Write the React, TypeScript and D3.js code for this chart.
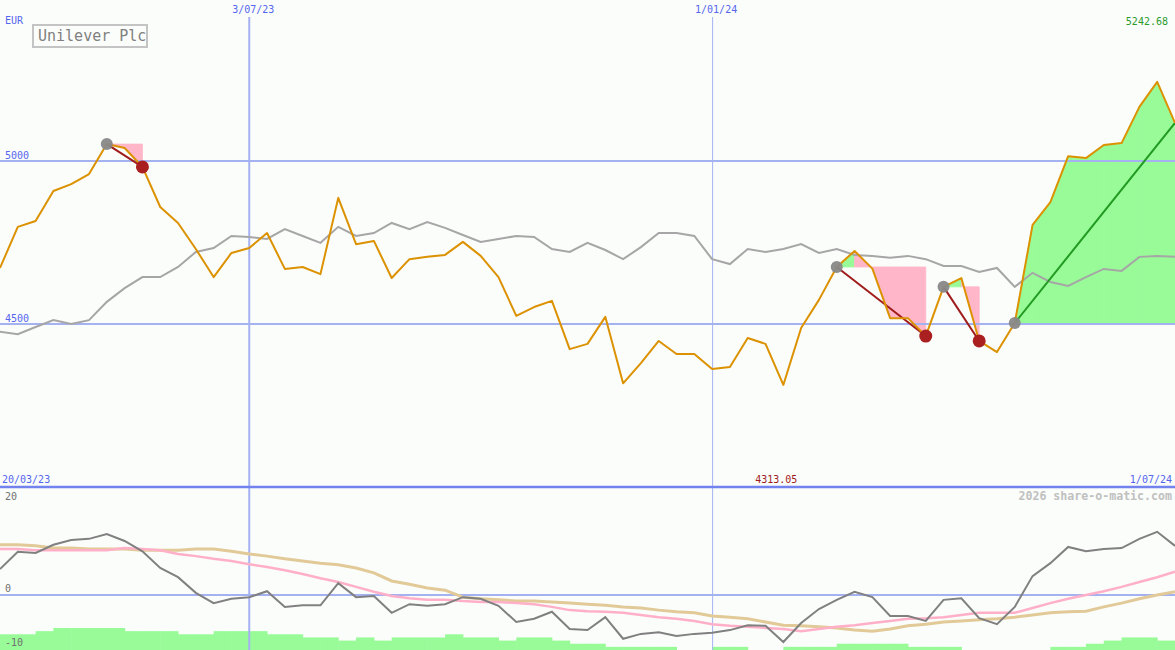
import React from "react";
import * as d3 from "d3";

const W = 1175;
const H = 650;

// weekly closes (EUR), first week 27/03/23, last week 1/07/24
const firstWeek = new Date(2023, 2, 27);
const weekCount = 67;

const price = [
  4672, 4798, 4816, 4908, 4929, 4960, 5052, 5040, 4982, 4859,
  4810, 4730, 4644, 4718, 4733, 4779, 4669, 4675, 4653, 4887,
  4745, 4755, 4641, 4699, 4706, 4712, 4752, 4709, 4644, 4525,
  4552, 4571, 4423, 4439, 4522, 4318, 4380, 4448, 4408, 4408,
  4362, 4368, 4457, 4439, 4313.05, 4488, 4574, 4675, 4724, 4670,
  4518, 4518, 4463, 4614, 4641, 4448, 4414, 4503, 4804, 4874,
  5015, 5009, 5049, 5055, 5166, 5242.68, 5117,
];

const compareIndex = [
  4476, 4469, 4491, 4512, 4500, 4512, 4568, 4610, 4644, 4644,
  4675, 4721, 4733, 4770, 4767, 4761, 4791, 4770, 4749, 4798,
  4770, 4779, 4810, 4791, 4813, 4795, 4773, 4752, 4761, 4770,
  4767, 4730, 4721, 4749, 4727, 4699, 4736, 4779, 4779, 4770,
  4699, 4684, 4730, 4721, 4730, 4745, 4718, 4730, 4712, 4709,
  4703, 4709, 4699, 4678, 4678, 4660, 4672, 4614, 4657, 4629,
  4617, 4644, 4669, 4663, 4706, 4709, 4706,
];

const momentum = [
  4.8, 8.0, 7.8, 9.3, 10.2, 10.4, 11.3, 10.0, 8.1, 5.0,
  3.3, 0.4, -1.5, -0.7, -0.4, 0.7, -2.2, -1.9, -1.9, 2.2,
  -0.4, -0.2, -3.3, -1.7, -2.0, -1.7, -0.4, -0.7, -2.0, -5.0,
  -4.4, -3.1, -6.3, -6.5, -4.1, -8.1, -7.2, -6.9, -7.6, -7.2,
  -7.0, -6.5, -5.6, -5.7, -8.7, -5.2, -2.6, -0.9, 0.6, -0.4,
  -3.9, -3.9, -4.8, -0.9, -0.6, -4.3, -5.4, -2.2, 3.5, 5.9,
  8.9, 8.1, 8.5, 8.7, 10.4, 11.7, 9.1,
];

const fastAverage = [
  8.5, 8.5, 8.3, 8.3, 8.3, 8.3, 8.3, 8.7, 8.5, 8.3,
  7.6, 7.2, 6.7, 6.3, 5.7, 5.2, 4.6, 3.9, 3.1, 2.4,
  1.5, 0.6, -0.2, -0.6, -0.9, -0.9, -1.1, -1.3, -1.3, -1.5,
  -1.7, -2.2, -2.8, -3.0, -3.1, -3.3, -3.7, -4.1, -4.4, -4.8,
  -5.4, -5.7, -5.9, -6.1, -6.3, -6.7, -6.3, -5.9, -5.6, -5.2,
  -4.8, -4.4, -4.3, -4.1, -3.7, -3.3, -3.3, -3.3, -2.4, -1.5,
  -0.7, 0, 0.7, 1.5, 2.4, 3.3, 4.3,
];

const slowAverage = [
  9.3, 9.3, 9.1, 8.7, 8.7, 8.5, 8.5, 8.5, 8.3, 8.3,
  8.3, 8.5, 8.5, 8.1, 7.6, 7.2, 6.7, 6.3, 5.9, 5.6,
  5.0, 4.1, 2.6, 2.0, 1.3, 0.9, -0.4, -0.7, -0.9, -1.1,
  -1.1, -1.3, -1.5, -1.7, -1.9, -2.2, -2.4, -2.8, -3.1, -3.3,
  -3.9, -4.1, -4.4, -5.0, -5.6, -5.7, -5.9, -6.1, -6.5, -6.7,
  -6.3, -5.7, -5.4, -5.0, -4.8, -4.6, -4.4, -4.1, -3.7, -3.3,
  -3.1, -3.0, -2.2, -1.5, -0.7, 0, 0.6,
];

// histogram level for each week-to-week interval
const barLevels = [
  5, 5, 6, 7, 7, 7, 7, 6, 6, 6,
  5, 5, 6, 6, 6, 5, 5, 4, 4, 3,
  4, 3, 4, 4, 4, 5, 4, 4, 3, 4,
  4, 3, 2, 2, 1, 1, 1, 1, 0, 0,
  1, 1, 0, 0, 1, 1, 1, 2, 2, 2,
  2, 1, 1, 1, 0, 0, 0, 0, 0, 1,
  1, 2, 3, 4, 4, 3,
];

const tradeEntries = [6, 47, 53, 57];
const tradeExits = [8, 52, 55, -1];

const priceTicks = [5000, 4500];
const oscTicks = [20, 0, -10];
const markerDates = [new Date(2023, 6, 3), new Date(2024, 0, 1)];
const markerLabels = ["3/07/23", "1/01/24"];
const startLabel = "20/03/23";
const endLabel = "1/07/24";
const title = "Unilever Plc";

const MONO = "'DejaVu Sans Mono', 'Liberation Mono', monospace";
const BLUE_TEXT = "#5566ee";
const GRID = "#a4b2f2";

export default function App() {
  const dates = d3.range(weekCount).map((i) => d3.timeWeek.offset(firstWeek, i));
  const x = d3.scaleTime().domain([dates[0], dates[dates.length - 1]]).range([0, W]);
  const y = d3.scaleLinear().domain([4000, 5494]).range([487, 0]);
  const yo = d3.scaleLinear().domain([-10, 20]).range([649, 487]);
  const yb = d3.scaleLinear().domain([0, 7]).range([650, 628]);

  const px = (i: number) => x(dates[i]);
  const priceLine = d3.line<number>().x((_, i) => px(i)).y((d) => y(d));
  const oscLine = d3.line<number>().x((_, i) => px(i)).y((d) => yo(d));

  const maxIdx = d3.maxIndex(price);
  const minIdx = d3.minIndex(price);

  // trade shading polygons
  const fills: { pts: string; color: string }[] = [];
  tradeEntries.forEach((a, t) => {
    const b = tradeExits[t] < 0 ? price.length - 1 : tradeExits[t];
    const base = price[a];
    for (let i = a; i < b; i++) {
      const pts = [
        [px(i), y(base)],
        [px(i), y(price[i])],
        [px(i + 1), y(price[i + 1])],
        [px(i + 1), y(base)],
      ]
        .map((p) => p.join(","))
        .join(" ");
      fills.push({ pts, color: price[i + 1] >= base ? "#98fb98" : "#ffb6c8" });
    }
  });

  return (
    <svg
      width={W}
      height={H}
      style={{ position: "absolute", left: 0, top: 0, display: "block" }}
      xmlns="http://www.w3.org/2000/svg"
    >
      <defs>
        <clipPath id="mainClip">
          <rect x={0} y={0} width={W} height={487} />
        </clipPath>
        <clipPath id="oscClip">
          <rect x={0} y={487} width={W} height={H - 487} />
        </clipPath>
      </defs>
      <rect x={0} y={0} width={W} height={H} fill="#fbfdfb" />

      {/* lower histogram */}
      <g clipPath="url(#oscClip)">
        {barLevels.map((v, i) =>
          v > 0 ? (
            <rect
              key={"b" + i}
              x={px(i)}
              y={yb(v)}
              width={px(i + 1) - px(i) + 0.5}
              height={yb(0) - yb(v)}
              fill="#98fb98"
            />
          ) : null
        )}
      </g>

      {/* trade shading */}
      <g clipPath="url(#mainClip)">
        {fills.map((f, i) => (
          <polygon
            key={"f" + i}
            points={f.pts}
            fill={f.color}
            stroke={f.color}
            strokeWidth={0.8}
            strokeLinejoin="round"
          />
        ))}
      </g>

      {/* grid */}
      {priceTicks.map((t) => (
        <line key={"h" + t} x1={0} x2={W} y1={y(t)} y2={y(t)} stroke={GRID} strokeWidth={2} />
      ))}
      <line x1={0} x2={W} y1={yo(0)} y2={yo(0)} stroke={GRID} strokeWidth={2} />
      <line
        x1={x(markerDates[0])}
        x2={x(markerDates[0])}
        y1={17}
        y2={H}
        stroke={GRID}
        strokeWidth={2}
      />
      <line
        x1={x(markerDates[1]) + 0.5}
        x2={x(markerDates[1]) + 0.5}
        y1={17}
        y2={H}
        stroke={GRID}
        strokeWidth={1}
      />
      <line x1={0} x2={W} y1={487} y2={487} stroke="#7282ee" strokeWidth={2.5} />

      {/* main panel lines */}
      <g clipPath="url(#mainClip)">
        <path d={priceLine(compareIndex) || ""} fill="none" stroke="#a6a6a6" strokeWidth={2} />
        {tradeEntries.map((a, t) => {
          const b = tradeExits[t] < 0 ? price.length - 1 : tradeExits[t];
          const win = tradeExits[t] < 0;
          return (
            <line
              key={"t" + t}
              x1={px(a)}
              y1={y(price[a])}
              x2={px(b)}
              y2={y(price[b])}
              stroke={win ? "#229a22" : "#a01c1c"}
              strokeWidth={2}
            />
          );
        })}
        <path d={priceLine(price) || ""} fill="none" stroke="#dc9200" strokeWidth={2} strokeLinejoin="round" />
        {tradeEntries.map((a, t) => (
          <circle key={"e" + t} cx={px(a)} cy={y(price[a])} r={6} fill="#888888" opacity={0.95} />
        ))}
        {tradeExits.map((b, t) =>
          b >= 0 ? <circle key={"x" + t} cx={px(b)} cy={y(price[b])} r={6.5} fill="#aa2020" /> : null
        )}
      </g>

      {/* oscillator lines */}
      <g clipPath="url(#oscClip)">
        <path d={oscLine(slowAverage) || ""} fill="none" stroke="#e2ca98" strokeWidth={3} />
        <path d={oscLine(fastAverage) || ""} fill="none" stroke="#ffb0c8" strokeWidth={2.5} />
        <path d={oscLine(momentum) || ""} fill="none" stroke="#808080" strokeWidth={2} />
      </g>

      {/* texts */}
      <g fontFamily={MONO} fontSize={10}>
        <text x={5} y={24} fill={BLUE_TEXT}>EUR</text>
        {priceTicks.map((t) => (
          <text key={"pt" + t} x={5} y={y(t) - 2} fill={BLUE_TEXT}>{t}</text>
        ))}
        {markerDates.map((d, i) => (
          <text key={"md" + i} x={x(d) + 4} y={13} fill={BLUE_TEXT} textAnchor="middle">
            {markerLabels[i]}
          </text>
        ))}
        <text x={1168} y={25} fill="#2a9a2a" textAnchor="end">{d3.format(".2f")(price[maxIdx])}</text>
        <text x={2} y={483} fill={BLUE_TEXT}>{startLabel}</text>
        <text x={px(minIdx) + 14} y={483} fill="#a01c1c" textAnchor="end">
          {d3.format(".2f")(price[minIdx])}
        </text>
        <text x={1172} y={483} fill={BLUE_TEXT} textAnchor="end">{endLabel}</text>
        {oscTicks.map((t) => (
          <text
            key={"ot" + t}
            x={5}
            y={t === 20 ? 500 : t === -10 ? 646 : yo(t) - 3}
            fill="#707070"
          >
            {t}
          </text>
        ))}
        <text x={1172} y={500} fill="#c0c0c0" textAnchor="end" fontSize={11.6} fontWeight="bold">
          2026 share-o-matic.com
        </text>
      </g>

      {/* title box */}
      <rect x={33} y={25} width={114} height={22} fill="#fbfdfb" stroke="#c4c4c4" strokeWidth={2} />
      <text x={38} y={41} fontFamily={MONO} fontSize={15} fill="#808080">{title}</text>
    </svg>
  );
}
